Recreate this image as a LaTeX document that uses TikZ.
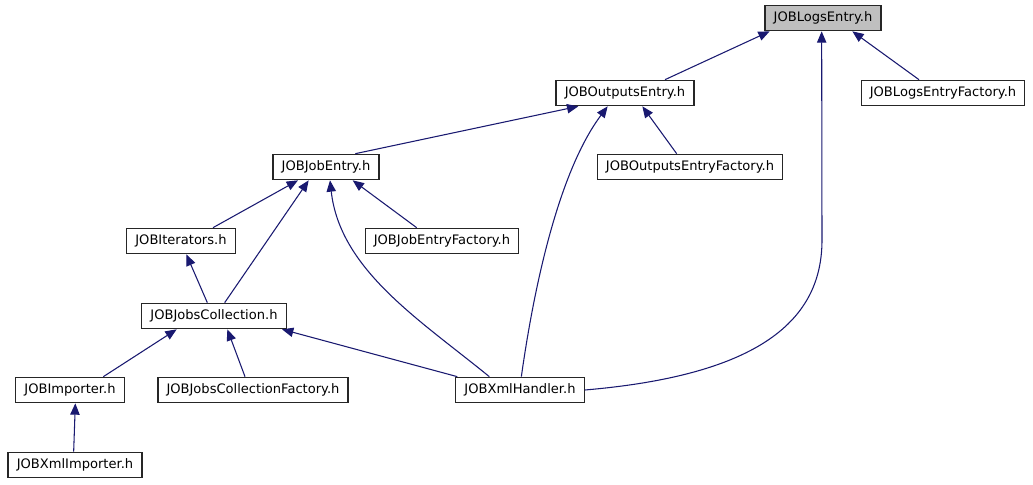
\documentclass[tikz,border=0pt]{standalone}
\usepackage{fontspec}
\setmainfont{DejaVu Sans}
\usepackage{xcolor}
\usetikzlibrary{arrows.meta}
\definecolor{edge}{RGB}{25,25,112}
\definecolor{shade}{RGB}{191,191,191}

\begin{document}
\begin{tikzpicture}[x=0.75pt,y=-0.75pt,>={Triangle[length=8.5pt,width=7pt]},
    header/.style={draw=black!85,line width=1pt,minimum height=19pt,
                   inner xsep=6.5pt,font=\fontsize{9.8}{12}\selectfont},
    current/.style={header,fill=shade},
    incl/.style={draw=edge,line width=0.8pt,->}]
    \useasboundingbox (0,0) rectangle (1033,485);

    \node[current] (le) at (823,18) {JOBLogsEntry.h};
    \node[header] (oe) at (625,93) {JOBOutputsEntry.h};
    \node[header] (lef) at (943,93) {JOBLogsEntryFactory.h};
    \node[header] (je) at (326,167) {JOBJobEntry.h};
    \node[header] (oef) at (690,167) {JOBOutputsEntryFactory.h};
    \node[header] (it) at (181,241) {JOBIterators.h};
    \node[header] (jef) at (442,241) {JOBJobEntryFactory.h};
    \node[header] (jc) at (214,316) {JOBJobsCollection.h};
    \node[header] (im) at (70,390) {JOBImporter.h};
    \node[header] (jcf) at (253,390) {JOBJobsCollectionFactory.h};
    \node[header] (xh) at (520,390) {JOBXmlHandler.h};
    \node[header] (xi) at (75,465) {JOBXmlImporter.h};

    % includes of JOBLogsEntry.h
    \draw[incl] ([xshift=30]oe.north) -- ([xshift=-40]le.south);
    \draw[incl] ([xshift=-18]lef.north) -- ([xshift=22]le.south);
    \draw[incl] (xh.east) .. controls (760,375) and (822,320) .. (822,240)
        -- ([xshift=-1]le.south);

    % includes of JOBOutputsEntry.h
    \draw[incl] ([xshift=22]je.north) -- ([xshift=-35]oe.south);
    \draw[incl] ([xshift=-10]oef.north) -- ([xshift=13]oe.south);
    \draw[incl] ([xshift=1]xh.north) .. controls (535,280) and (560,170)
        .. ([xshift=-13]oe.south);

    % includes of JOBJobEntry.h
    \draw[incl] ([xshift=24]it.north) -- ([xshift=-21]je.south);
    \draw[incl] ([xshift=8]jc.north) -- ([xshift=-13]je.south);
    \draw[incl] ([xshift=-19]jef.north) -- ([xshift=20]je.south);
    \draw[incl] ([xshift=-23]xh.north) .. controls (420,320) and (340,270)
        .. ([xshift=3]je.south);

    % the rest
    \draw[incl] ([xshift=-5]jc.north) -- ([xshift=4]it.south);
    \draw[incl] ([xshift=25]im.north) -- ([xshift=-28]jc.south);
    \draw[incl] ([xshift=-6]jcf.north) -- ([xshift=10]jc.south);
    \draw[incl] ([xshift=-47]xh.north) -- ([xshift=51]jc.south);
    \draw[incl] ([xshift=-1]xi.north) -- ([xshift=4]im.south);
\end{tikzpicture}
\end{document}
